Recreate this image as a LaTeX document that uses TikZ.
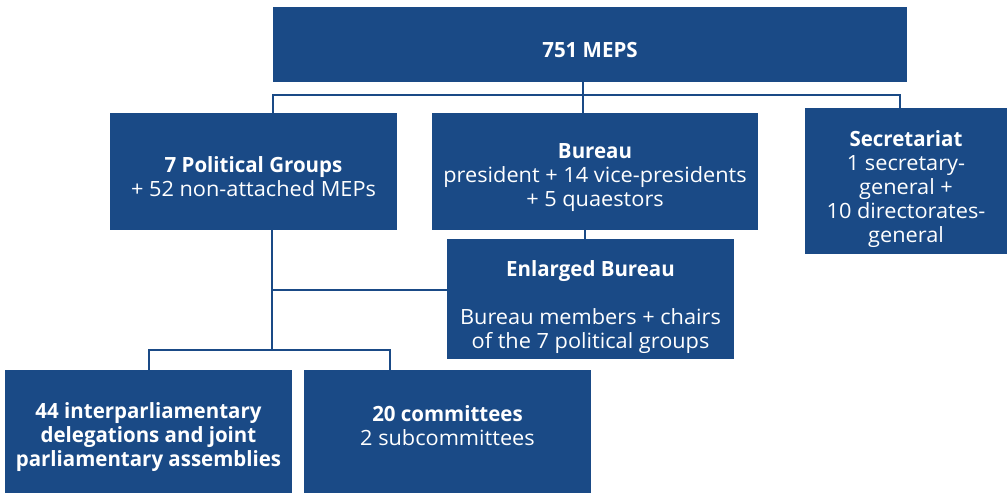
\documentclass[tikz,border=0pt]{standalone}
\usepackage{fontspec}
\setmainfont{Open Sans}[UprightFeatures={FakeStretch=1.035},BoldFeatures={FakeStretch=0.975}]
\usetikzlibrary{fit}
\definecolor{epblue}{RGB}{26,74,134}
\newcommand{\txtlines}[1]{\begin{tabular}[t]{@{}c@{}}#1\end{tabular}}
\tikzset{
  box/.style={fill=epblue, draw=none, inner sep=0pt, outer sep=0pt},
  txt/.style={text=white, inner sep=0pt, anchor=base, font=\fontsize{21}{24}\selectfont},
  conn/.style={draw=epblue, line width=2.6pt}
}
\begin{document}
\begin{tikzpicture}[x=1pt,y=-1pt]
\useasboundingbox (0,0) rectangle (1008,493);
% boxes
\node[box, fit={(273,7) (907,82)}] (top) {};
\node[box, fit={(110,113) (397,230)}] (pg) {};
\node[box, fit={(432,113) (758,230)}] (bureau) {};
\node[box, fit={(805,108) (1007,254)}] (sec) {};
\node[box, fit={(447,239) (734,359)}] (enl) {};
\node[box, fit={(5,370) (292,493)}] (del) {};
\node[box, fit={(304,370) (591,493)}] (com) {};
% texts
\node[txt] (toptext) at (590,57) {\textbf{751 MEPS}};
\node[txt] (pgtext) at (253.5,172) {\txtlines{\textbf{7 Political Groups}\\+ 52 non-attached MEPs}};
\node[txt] (burtext) at (595,158) {\txtlines{\textbf{Bureau}\\president + 14 vice-presidents\\+ 5 quaestors}};
\node[txt] (sectext) at (906,146) {\txtlines{\textbf{Secretariat}\\1 secretary-\\general +\\10 directorates-\\general}};
\node[txt] (enltext) at (590.5,276) {\txtlines{\textbf{Enlarged Bureau}\\ \\Bureau members + chairs\\of the 7 political groups}};
\node[txt] (deltext) at (148.5,418) {\txtlines{\textbf{44 interparliamentary}\\\textbf{delegations and joint}\\\textbf{parliamentary assemblies}}};
\node[txt] (comtext) at (447.5,421) {\txtlines{\textbf{20 committees}\\2 subcommittees}};
% junction coordinates
\coordinate (hL) at (273,95);
\coordinate (hM) at (583,95);
\coordinate (hR) at (900,95);
\coordinate (eb) at (585,235);
\coordinate (v1) at (272,290);
\coordinate (v2) at (272,350);
\coordinate (bL) at (149,350);
\coordinate (bR) at (390,350);
% connectors
\draw[conn] (pg.north -| hL) -- (hL) -- (hR) -- (sec.north -| hR);
\draw[conn] (top.south -| hM) -- (bureau.north -| hM);
\draw[conn] (bureau.south -| eb) -- (enl.north -| eb);
\draw[conn] (pg.south -| v1) -- (v2);
\draw[conn] (v1) -- (enl.west |- v1);
\draw[conn] (del.north -| bL) -- (bL) -- (bR) -- (com.north -| bR);
\end{tikzpicture}
\end{document}
